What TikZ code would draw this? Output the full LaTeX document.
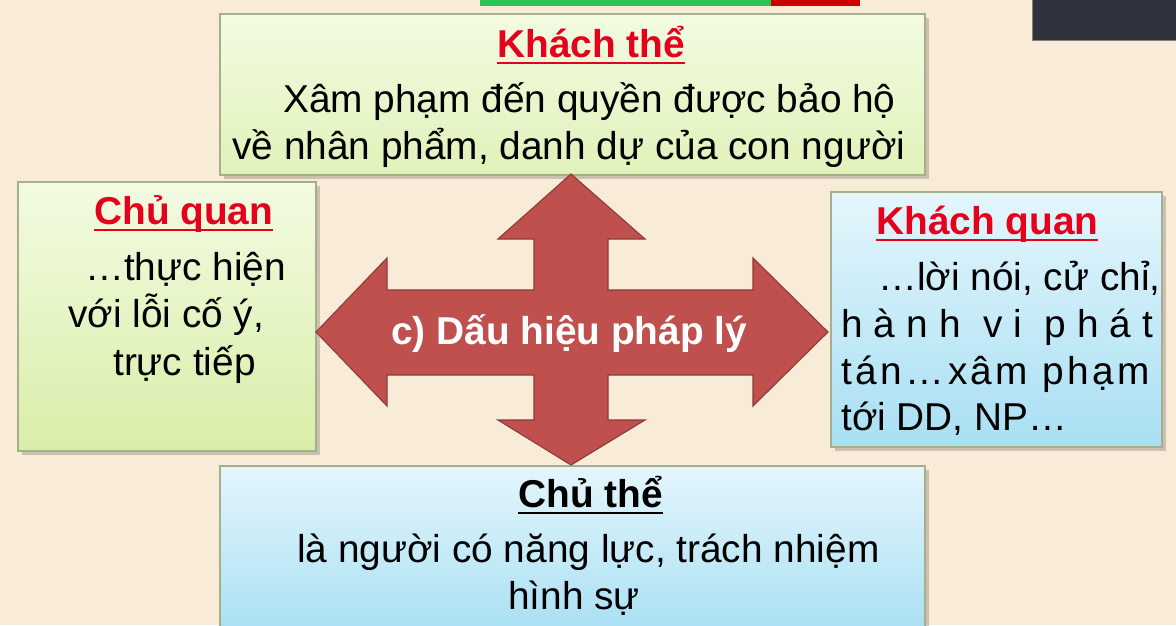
\documentclass[tikz,border=0pt]{standalone}
\usepackage{fontspec}
\setmainfont{Liberation Sans}
\definecolor{nen}{HTML}{F8EBD8}
\definecolor{vien}{HTML}{A7AE8C}
\definecolor{tdo}{HTML}{E5001C}
\definecolor{muiten}{HTML}{C0504D}
\definecolor{vienmt}{HTML}{8E3B39}
\definecolor{xanhla1}{HTML}{F3FBE2}
\definecolor{xanhla2}{HTML}{D8EEA8}
\definecolor{xanhduong1}{HTML}{E4F6FC}
\definecolor{xanhduong2}{HTML}{A8DFF3}
\definecolor{thanh}{HTML}{2BC25A}
\definecolor{khungtoi}{HTML}{2D323C}
\newcommand{\gach}[1]{\setbox0\hbox{#1}\rlap{\rule[-5pt]{\wd0}{1.6pt}}\box0}
\tikzset{
  hop/.style={draw=vien, line width=0.8pt},
  bong/.style={fill=black, opacity=0.18},
  chu/.style={anchor=base west, inner sep=0pt, font=\fontsize{27.6}{34}\selectfont},
  tieude/.style={chu, font=\fontsize{27.6}{34}\selectfont\bfseries, text=tdo},
}
\begin{document}
\begin{tikzpicture}[x=0.025cm, y=-0.025cm]
  \useasboundingbox (0,0) rectangle (1176,625);
  \fill[nen] (0,0) rectangle (1176,625);
  \fill[thanh] (480,0) rectangle (771,6);
  \fill[red!80!black] (771,0) rectangle (860,6);
  \draw[fill=khungtoi, draw=gray] (1032,-2) rectangle (1178,40);

  \fill[bong] (224,18) rectangle (929,179);
  \shade[hop, top color=xanhla1, bottom color=xanhla2!70!xanhla1] (220,14) rectangle (925,175);
  \node[tieude] (khachthe) at (497,57) {\gach{Khách thể}};
  \node[chu] (kt1) at (283,112) {Xâm phạm đến quyền được bảo hộ};
  \node[chu] (kt2) at (232,159) {về nhân phẩm, danh dự của con người};

  \fill[bong] (22,186) rectangle (320,455);
  \shade[hop, top color=xanhla1, bottom color=xanhla2] (18,182) rectangle (316,451);
  \node[tieude] (chuquan) at (94,224) {\gach{Chủ quan}};
  \node[chu] (cq1) at (85,280) {…thực hiện};
  \node[chu] (cq2) at (68,327) {với lỗi cố ý,};
  \node[chu] (cq3) at (113,375) {trực tiếp};

  \fill[bong] (835,196) rectangle (1166,451);
  \shade[hop, top color=xanhduong1, bottom color=xanhduong2] (831,192) rectangle (1162,447);
  \node[tieude] (khachquan) at (876,234) {\gach{Khách quan}};
  \node[chu] (kq1) at (878,290) {…lời nói, cử chỉ,};
  \node[chu] (kq2) at (841,337) {\makebox[222pt][s]{h\hfill à\hfill n\hfill h\hfill\hfill v\hfill i\hfill\hfill p\hfill h\hfill á\hfill t}};
  \node[chu] (kq3) at (841,384) {\addfontfeature{LetterSpace=9}tán…xâm phạm};
  \node[chu] (kq4) at (841,430) {tới DD, NP…};

  \fill[bong] (224,470) rectangle (929,640);
  \shade[hop, top color=xanhduong1, bottom color=xanhduong2] (220,466) rectangle (925,636);
  \node[tieude, text=black] (chuthe) at (518,507) {\gach{Chủ thể}};
  \node[chu] (ct1) at (297,562) {là người có năng lực, trách nhiệm};
  \node[chu] (ct2) at (508,609) {hình sự};

  \draw[fill=muiten, draw=vienmt, line width=0.8pt, line join=miter]
    (571,174) -- (645,239) -- (608,239) -- (608,290) -- (753,290) -- (753,258)
    -- (828,332) -- (753,406) -- (753,375) -- (608,375) -- (608,420) -- (645,420)
    -- (571,465) -- (498,420) -- (534,420) -- (534,375) -- (387,375) -- (387,406)
    -- (316,332) -- (387,258) -- (387,290) -- (534,290) -- (534,239) -- (498,239) -- cycle;
  \node[chu, font=\fontsize{27.6}{34}\selectfont\bfseries, text=white] (dauhieu) at (391,344) {c) Dấu hiệu pháp lý};
\end{tikzpicture}
\end{document}
